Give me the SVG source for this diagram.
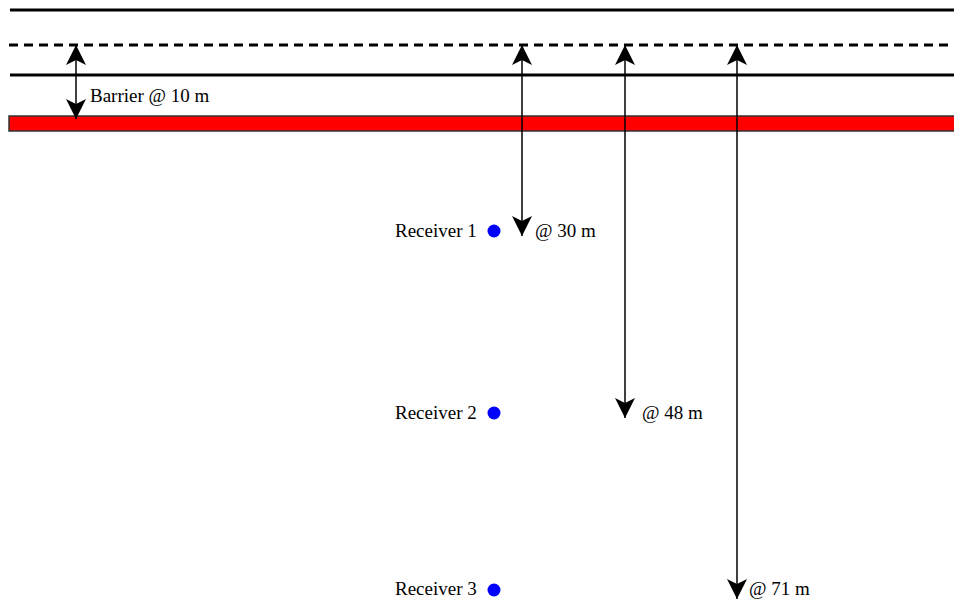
<svg xmlns="http://www.w3.org/2000/svg" width="954" height="601" viewBox="0 0 954 601">
<style>
.road{stroke:#000;stroke-width:3;fill:none}
.dash{stroke-dasharray:9,6}
.dim{stroke:#000;stroke-width:1.5;fill:none;marker-start:url(#ah);marker-end:url(#ah)}
.lbl{font-family:"Liberation Serif","Times New Roman",serif;font-size:19px;fill:#000}
.rx{fill:#0000ff}
</style>
<defs>
<marker id="ah" viewBox="-20 -10 20 20" markerWidth="20" markerHeight="20" refX="0" refY="0" orient="auto-start-reverse" markerUnits="userSpaceOnUse">
<path d="M0,0 L-20,-10 L-15,0 L-20,10 Z" fill="#000"/>
</marker>
</defs>
<g id="road">
<line class="road" x1="10" y1="10" x2="954" y2="10"/>
<line class="road dash" x1="9" y1="45" x2="954" y2="45"/>
<line class="road" x1="10" y1="75" x2="954" y2="75"/>
</g>
<g id="barrier">
<rect x="9" y="116" width="946" height="15" fill="#ff0000" stroke="#333" stroke-width="1.5"/>
</g>
<g id="connectors">
<line class="dim" x1="76" y1="45" x2="76" y2="119"/>
<line class="dim" x1="522" y1="45" x2="522" y2="236"/>
<line class="dim" x1="625" y1="45" x2="625" y2="418"/>
<line class="dim" x1="737" y1="45" x2="737" y2="599"/>
</g>
<g id="labels">
<text class="lbl" x="90" y="102">Barrier @ 10 m</text>
<text class="lbl" x="535" y="237">@ 30 m</text>
<text class="lbl" x="642" y="419">@ 48 m</text>
<text class="lbl" x="749" y="595">@ 71 m</text>
</g>
<g id="receiver1">
<text class="lbl" x="395" y="237">Receiver 1</text>
<circle class="rx" cx="494" cy="231" r="6.5"/>
</g>
<g id="receiver2">
<text class="lbl" x="395" y="419">Receiver 2</text>
<circle class="rx" cx="494" cy="413" r="6.5"/>
</g>
<g id="receiver3">
<text class="lbl" x="395" y="595">Receiver 3</text>
<circle class="rx" cx="494" cy="590" r="6.5"/>
</g>
</svg>
